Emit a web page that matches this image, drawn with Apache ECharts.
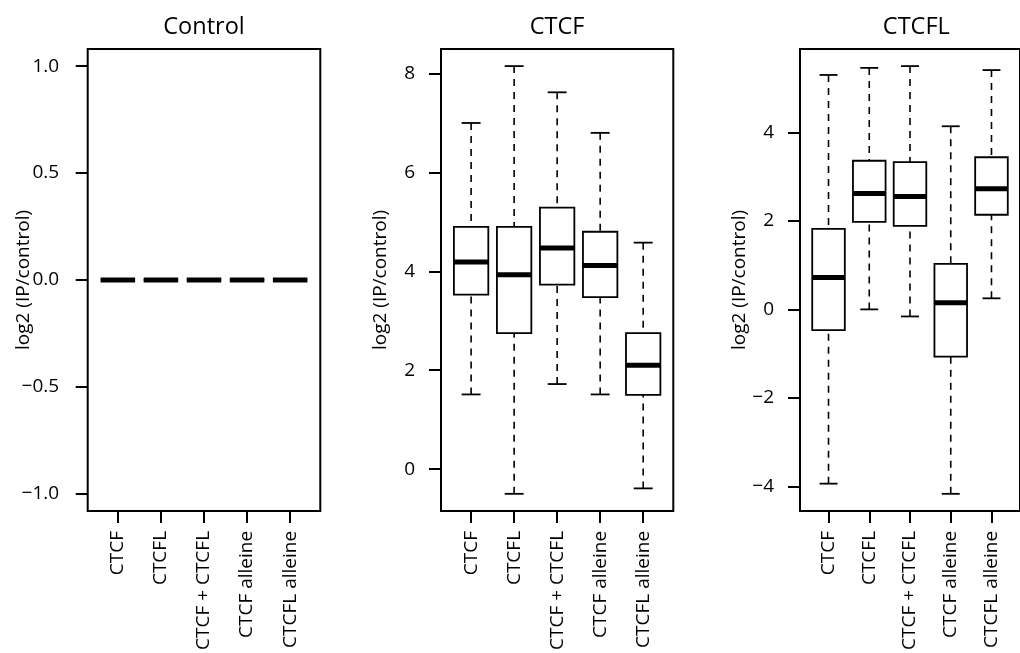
<!DOCTYPE html>
<html>
<head>
<meta charset="utf-8">
<title>log2 (IP/control)</title>
<script src="https://cdn.jsdelivr.net/npm/echarts@6/dist/echarts.min.js"></script>
<style>
  html, body { margin: 0; padding: 0; background: #fff; }
  #chart { width: 1020px; height: 653px; }
</style>
</head>
<body>
<div id="chart"></div>
<script>
// Sample groups shown along each x axis
const categories = ['CTCF', 'CTCFL', 'CTCF + CTCFL', 'CTCF alleine', 'CTCFL alleine'];
const panelTitles = ['Control', 'CTCF', 'CTCFL'];

// Per group: [lower whisker, Q1, median, Q3, upper whisker]
const controlStats = [
  [0, 0, 0, 0, 0],
  [0, 0, 0, 0, 0],
  [0, 0, 0, 0, 0],
  [0, 0, 0, 0, 0],
  [0, 0, 0, 0, 0]
];
const ctcfStats = [
  [1.51, 3.53, 4.19, 4.90, 7.00],
  [-0.50, 2.75, 3.93, 4.90, 8.15],
  [1.72, 3.73, 4.47, 5.29, 7.62],
  [1.51, 3.48, 4.12, 4.80, 6.80],
  [-0.39, 1.50, 2.10, 2.75, 4.58]
];
const ctcflStats = [
  [-3.94, -0.47, 0.72, 1.82, 5.30],
  [0.00, 1.98, 2.62, 3.36, 5.46],
  [-0.16, 1.89, 2.55, 3.33, 5.50],
  [-4.17, -1.07, 0.15, 1.03, 4.14],
  [0.25, 2.14, 2.73, 3.44, 5.41]
];

// Y tick values per panel
const controlTicks = [-1, -0.5, 0, 0.5, 1];
const ctcfTicks = [0, 2, 4, 6, 8];
const ctcflTicks = [-4, -2, 0, 2, 4];

const FONT = '"Open Sans", "Noto Sans", sans-serif';
const LABEL_SIZE = 19;
const TITLE_SIZE = 23.5;
const BOX_WIDTH = 0.8;
const STAPLE_WIDTH = 0.44;

const panels = [
  { title: panelTitles[0], stats: controlStats, ticks: controlTicks, decimals: 1,
    left: 87.7, width: 232.6, nameGap: 55, labelMargin: 28.5 },
  { title: panelTitles[1], stats: ctcfStats, ticks: ctcfTicks, decimals: 0,
    left: 441, width: 232.3, nameGap: 51, labelMargin: 26 },
  { title: panelTitles[2], stats: ctcflStats, ticks: ctcflTicks, decimals: 0,
    left: 800, width: 232.6, nameGap: 51, labelMargin: 26 }
];
const GRID_TOP = 49;
const GRID_HEIGHT = 464;

// Value range of a panel, padded by 4% on both ends
function paddedRange(stats) {
  let lo = Infinity, hi = -Infinity;
  stats.forEach(s => { lo = Math.min(lo, s[0]); hi = Math.max(hi, s[4]); });
  if (hi === lo) { lo -= 1; hi += 1; }
  const pad = (hi - lo) * 0.04;
  return [lo - pad, hi + pad];
}

function fmtTick(v, dec) {
  const s = Math.abs(v).toFixed(dec);
  return (v < 0 ? '\u2212' : '') + s;
}

const groupPositions = categories.map((c, i) => i + 1);

function renderBox(params, api) {
  const x = api.value(0);
  const lo = api.value(1), q1 = api.value(2), med = api.value(3), q3 = api.value(4), hi = api.value(5);
  const boxW = api.size([BOX_WIDTH, 0])[0];
  const stapleW = api.size([STAPLE_WIDTH, 0])[0];
  const pHi = api.coord([x, hi]);
  const pQ3 = api.coord([x, q3]);
  const pMed = api.coord([x, med]);
  const pQ1 = api.coord([x, q1]);
  const pLo = api.coord([x, lo]);
  const cx = pMed[0];
  const seg = (x1, y1, x2, y2, style) => ({ type: 'line', shape: { x1, y1, x2, y2 }, style });
  const whisker = { stroke: '#000', lineWidth: 1.6, lineDash: [7, 6], fill: null };
  const solid = { stroke: '#000', lineWidth: 1.8, fill: null, lineCap: 'butt' };
  return {
    type: 'group',
    children: [
      // whiskers are drawn from the staple towards the box
      seg(cx, pHi[1], cx, pQ3[1], whisker),
      seg(cx, pLo[1], cx, pQ1[1], whisker),
      seg(cx - stapleW / 2, pHi[1], cx + stapleW / 2, pHi[1], solid),
      seg(cx - stapleW / 2, pLo[1], cx + stapleW / 2, pLo[1], solid),
      {
        type: 'rect',
        shape: { x: cx - boxW / 2, y: pQ3[1], width: boxW, height: pQ1[1] - pQ3[1] },
        style: { stroke: '#000', lineWidth: 1.8, fill: '#fff' }
      },
      seg(cx - boxW / 2, pMed[1], cx + boxW / 2, pMed[1],
          { stroke: '#000', lineWidth: 5, lineCap: 'butt' })
    ]
  };
}

const grid = [], xAxis = [], yAxis = [], series = [], graphic = [];
panels.forEach((p, i) => {
  const range = paddedRange(p.stats);
  grid.push({
    left: p.left, top: GRID_TOP, width: p.width, height: GRID_HEIGHT,
    show: true, borderColor: '#000', borderWidth: 2, backgroundColor: 'transparent',
    containLabel: false
  });
  xAxis.push({
    type: 'value', gridIndex: i, position: 'bottom',
    min: 0.5 - 0.04 * categories.length, max: categories.length + 0.5 + 0.04 * categories.length,
    axisLine: { show: false, onZero: false },
    splitLine: { show: false },
    axisTick: { show: true, length: 12, customValues: groupPositions,
                lineStyle: { color: '#000', width: 2 } },
    axisLabel: {
      show: true, customValues: groupPositions, rotate: 90, margin: 20,
      fontFamily: FONT, fontSize: LABEL_SIZE, color: '#000',
      formatter: v => categories[Math.round(v) - 1] || ''
    }
  });
  yAxis.push({
    type: 'value', gridIndex: i, position: 'left', min: range[0], max: range[1],
    name: 'log2 (IP/control)', nameLocation: 'middle', nameGap: p.nameGap,
    nameMoveOverlap: false,
    nameTextStyle: { fontFamily: FONT, fontSize: LABEL_SIZE, color: '#000' },
    axisLine: { show: false, onZero: false },
    splitLine: { show: false },
    axisTick: { show: true, length: 12, customValues: p.ticks,
                lineStyle: { color: '#000', width: 2 } },
    axisLabel: {
      show: true, customValues: p.ticks, margin: p.labelMargin,
      fontFamily: FONT, fontSize: LABEL_SIZE, color: '#000',
      formatter: v => fmtTick(v, p.decimals)
    }
  });
  series.push({
    type: 'custom', xAxisIndex: i, yAxisIndex: i, clip: false, silent: true,
    renderItem: renderBox,
    encode: { x: 0, y: [1, 2, 3, 4, 5] },
    data: p.stats.map((s, k) => [groupPositions[k]].concat(s))
  });
  graphic.push({
    type: 'text', x: p.left + p.width / 2, y: 27,
    style: { text: p.title, fontFamily: FONT, fontSize: TITLE_SIZE, fill: '#000',
             textAlign: 'center', textVerticalAlign: 'middle' }
  });
});

const chart = echarts.init(document.getElementById('chart'), null, { renderer: 'canvas' });
chart.setOption({
  animation: false,
  backgroundColor: '#fff',
  grid, xAxis, yAxis, series, graphic
});
</script>
</body>
</html>
